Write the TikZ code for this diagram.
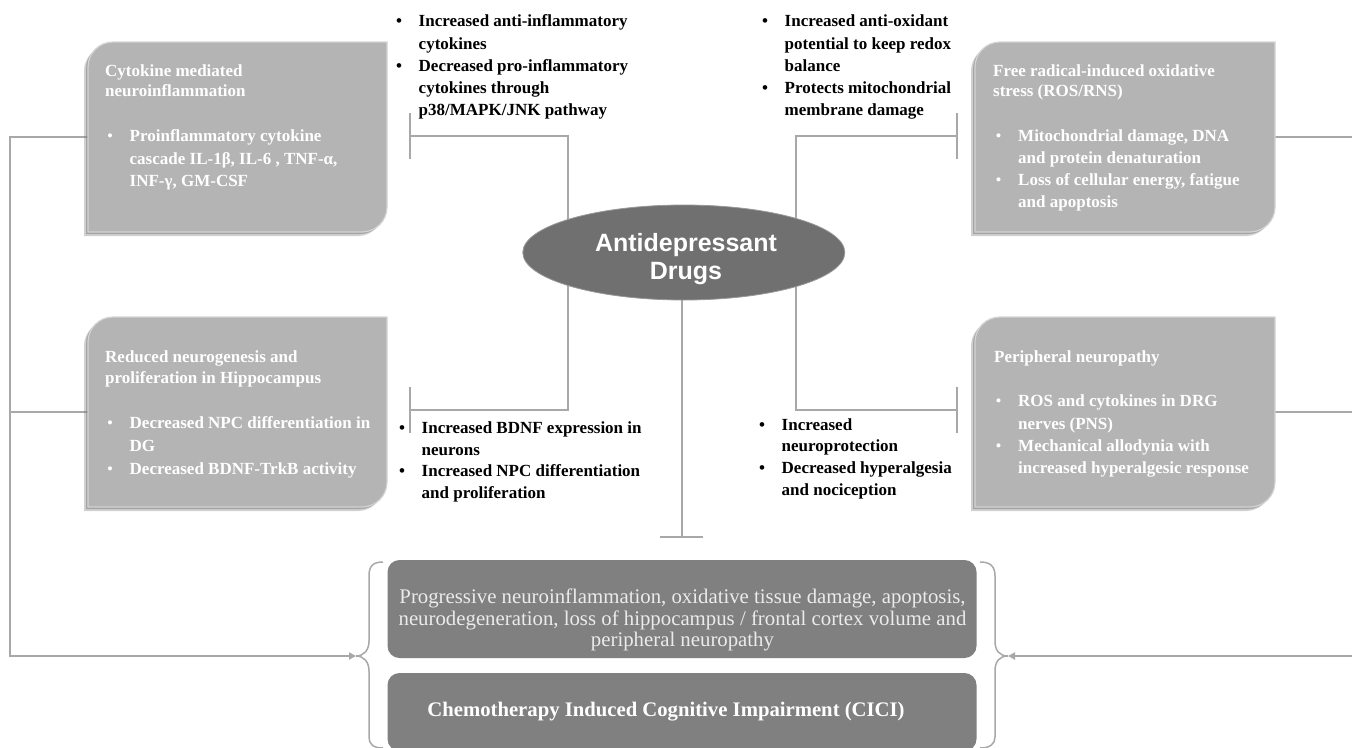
\documentclass[tikz,border=0pt]{standalone}
\usepackage{fontspec}
\setmainfont{Liberation Serif}
\newfontfamily\arialfont{Liberation Sans}
\usetikzlibrary{shapes.geometric,arrows.meta,backgrounds}
\definecolor{boxgray}{HTML}{B4B4B4}
\definecolor{boxedge}{HTML}{D4D4D4}
\definecolor{shadowgray}{HTML}{7A7A7A}
\definecolor{darkbox}{HTML}{808080}
\definecolor{ellgray}{HTML}{707070}
\definecolor{linegray}{HTML}{A8A8A8}
\definecolor{lighttext}{HTML}{EBEBEB}
\newcommand\topstrut[1]{\rule{0pt}{#1pt}}
\newcommand\bul{\makebox[22.5pt][l]{\textbullet}}
\newcommand\wbul{\makebox[22.5pt][l]{\mdseries\textbullet}}
\newcommand\ind{\hspace*{22.5pt}}
\newcommand\gboxpath[4]{(#1,#4) -- (#1,#2+25) arc[start angle=180,end angle=270,radius=25] -- (#3,#2) -- (#3,#4-25) arc[start angle=0,end angle=90,radius=25] -- cycle}
\newcommand\gbox[5]{%
  \fill[shadowgray,opacity=0.35,shift={(-4,4)}] \gboxpath{#2}{#3}{#4}{#5};
  \fill[shadowgray,opacity=0.5,shift={(-2,2)}] \gboxpath{#2}{#3}{#4}{#5};
  \filldraw[fill=boxgray,draw=boxedge,line width=1.2pt] \gboxpath{#2}{#3}{#4}{#5};
  \node[inner sep=0pt,minimum width=#4-#2,minimum height=#5-#3] (#1) at ({(#2+#4)/2},{(#3+#5)/2}) {};
}
\tikzset{
  conn/.style={draw=linegray,line width=1.8pt},
  inhib/.style={conn,-{Bar[width=#1]}},
  arr/.style={conn,-{Triangle[length=7pt,width=7pt]}},
  btext/.style={anchor=north west,inner sep=0pt,align=left,text=black,font=\fontsize{17}{#1}\selectfont\bfseries},
  wtext/.style={anchor=north west,inner sep=0pt,align=left,text=white,font=\fontsize{17}{#1}\selectfont\bfseries},
  darkbox/.style={fill=darkbox,rounded corners=12pt,inner sep=0pt},
}
\begin{document}
\begin{tikzpicture}[x=1pt,y=-1pt]
\useasboundingbox (0,0) rectangle (1352,747);

% gray boxes
\gbox{b1}{88}{42}{387}{232}
\gbox{b2}{975}{42}{1275}{232}
\gbox{b3}{88}{317}{387}{507}
\gbox{b4}{975}{317}{1275}{507}

% box texts
\node[wtext=20.7] (b1h) at (105,62) {\topstrut{14}Cytokine mediated\\neuroinflammation};
\node[wtext=22.5] (b1l) at (107,127.7) {\topstrut{14}\wbul Proinflammatory cytokine\\\ind cascade IL-1β, IL-6 , TNF-α,\\\ind INF-γ, GM-CSF};
\node[wtext=20.7] (b2h) at (993,62) {\topstrut{14}Free radical-induced oxidative\\stress (ROS/RNS)};
\node[wtext=21.7] (b2l) at (995.5,127.7) {\topstrut{14}\wbul Mitochondrial damage, DNA\\\ind and protein denaturation\\\wbul Loss of cellular energy, fatigue\\\ind and apoptosis};
\node[wtext=20.7] (b3h) at (105,348.3) {\topstrut{14}Reduced neurogenesis and\\proliferation in Hippocampus};
\node[wtext=23] (b3l) at (107,414.3) {\topstrut{14}\wbul Decreased NPC differentiation in\\\ind DG\\\wbul Decreased BDNF-TrkB activity};
\node[wtext=20.7] (b4h) at (994,348.7) {\topstrut{14}Peripheral neuropathy};
\node[wtext=22.2] (b4l) at (995.5,392.7) {\topstrut{14}\wbul ROS and cytokines in DRG\\\ind nerves (PNS)\\\wbul Mechanical allodynia with\\\ind increased hyperalgesic response};

% black effect texts
\node[btext=22.1] (e1) at (396,12.7) {\topstrut{14}\bul Increased anti-inflammatory\\\ind cytokines\\\bul Decreased pro-inflammatory\\\ind cytokines through\\\ind p38/MAPK/JNK pathway};
\node[btext=22.1] (e2) at (762,12.7) {\topstrut{14}\bul Increased anti-oxidant\\\ind potential to keep redox\\\ind balance\\\bul Protects mitochondrial\\\ind membrane damage};
\node[btext=21.7] (e3) at (399,419.3) {\topstrut{14}\bul Increased BDNF expression in\\\ind neurons\\\bul Increased NPC differentiation\\\ind and proliferation};
\node[btext=21.7] (e4) at (759,416) {\topstrut{14}\bul Increased\\\ind neuroprotection\\\bul Decreased hyperalgesia\\\ind and nociception};

% central ellipse
\node[ellipse,fill=ellgray,draw=gray!80,line width=0.8pt,minimum width=322pt,minimum height=95pt,inner sep=0pt] (ad) at (683.8,252.5) {};
\node[anchor=north,inner sep=0pt,align=center,text=white,font=\arialfont\bfseries\fontsize{25}{27.3}\selectfont] (adt) at (686,232.7) {\topstrut{19}Antidepressant\\Drugs};

% bottom boxes
\node[darkbox,minimum width=589pt,minimum height=98pt] (pb) at (682,609) {};
\node[anchor=north,inner sep=0pt,align=center,text=lighttext,font=\fontsize{20.8}{21.7}\selectfont] (pbt) at (682.5,588.3) {\topstrut{15}Progressive neuroinflammation, oxidative tissue damage, apoptosis,\\neurodegeneration, loss of hippocampus / frontal cortex volume and\\peripheral neuropathy};
\node[darkbox,minimum width=589pt,minimum height=78pt] (cb) at (682,712) {};
\node[anchor=north,inner sep=0pt,text=white,font=\fontsize{20.7}{22}\selectfont\bfseries] (cbt) at (666,701) {\topstrut{15}Chemotherapy Induced Cognitive Impairment (CICI)};

% braces
\draw[linegray,line width=1.5pt] (383,562) .. controls (373,562) and (369,566) .. (369,576) -- (369,641) .. controls (369,650) and (364,656) .. (356,656) .. controls (364,656) and (369,662) .. (369,671) -- (369,737) .. controls (369,744) and (373,748) .. (383,748);
\draw[linegray,line width=1.5pt] (980,562) .. controls (990,562) and (995,566) .. (995,576) -- (995,641) .. controls (995,650) and (999,656) .. (1008,656) .. controls (999,656) and (995,662) .. (995,671) -- (995,737) .. controls (995,744) and (990,748) .. (980,748);
\coordinate (lbt) at (356,656);
\coordinate (rbt) at (1008,656);

% coordinates for connectors
\coordinate (lx) at (10,0);
\coordinate (rx) at (1352,0);
\coordinate (lc) at (10,656);
\coordinate (rc) at (1352,656);
\coordinate (v1) at (568,0);
\coordinate (v2) at (796,0);
\coordinate (v3) at (681.7,0);
\coordinate (t1) at (409,136);
\coordinate (t2) at (409,410);
\coordinate (t3) at (958,136);
\coordinate (t4) at (958,410);
\coordinate (t5) at (681.7,538);

\begin{scope}[on background layer]
  \fill[white] (0,0) rectangle (1352,747);
  \draw[arr] (b1.west) -| (lc) -- (lbt);
  \draw[conn] (b3.west) -- (b3.west -| lx);
  \draw[conn] (b2.east) -- (b2.east -| rx);
  \draw[conn] (b4.east) -- (b4.east -| rx);
  \draw[arr] (rc) -- (rbt);
  \draw[inhib=46pt] (ad.center -| v1) |- (t1);
  \draw[inhib=46pt] (ad.center -| v1) |- (t2);
  \draw[inhib=46pt] (ad.center -| v2) |- (t3);
  \draw[inhib=46pt] (ad.center -| v2) |- (t4);
  \draw[inhib=43pt] (ad.center -| v3) -- (t5);
\end{scope}
\end{tikzpicture}
\end{document}
